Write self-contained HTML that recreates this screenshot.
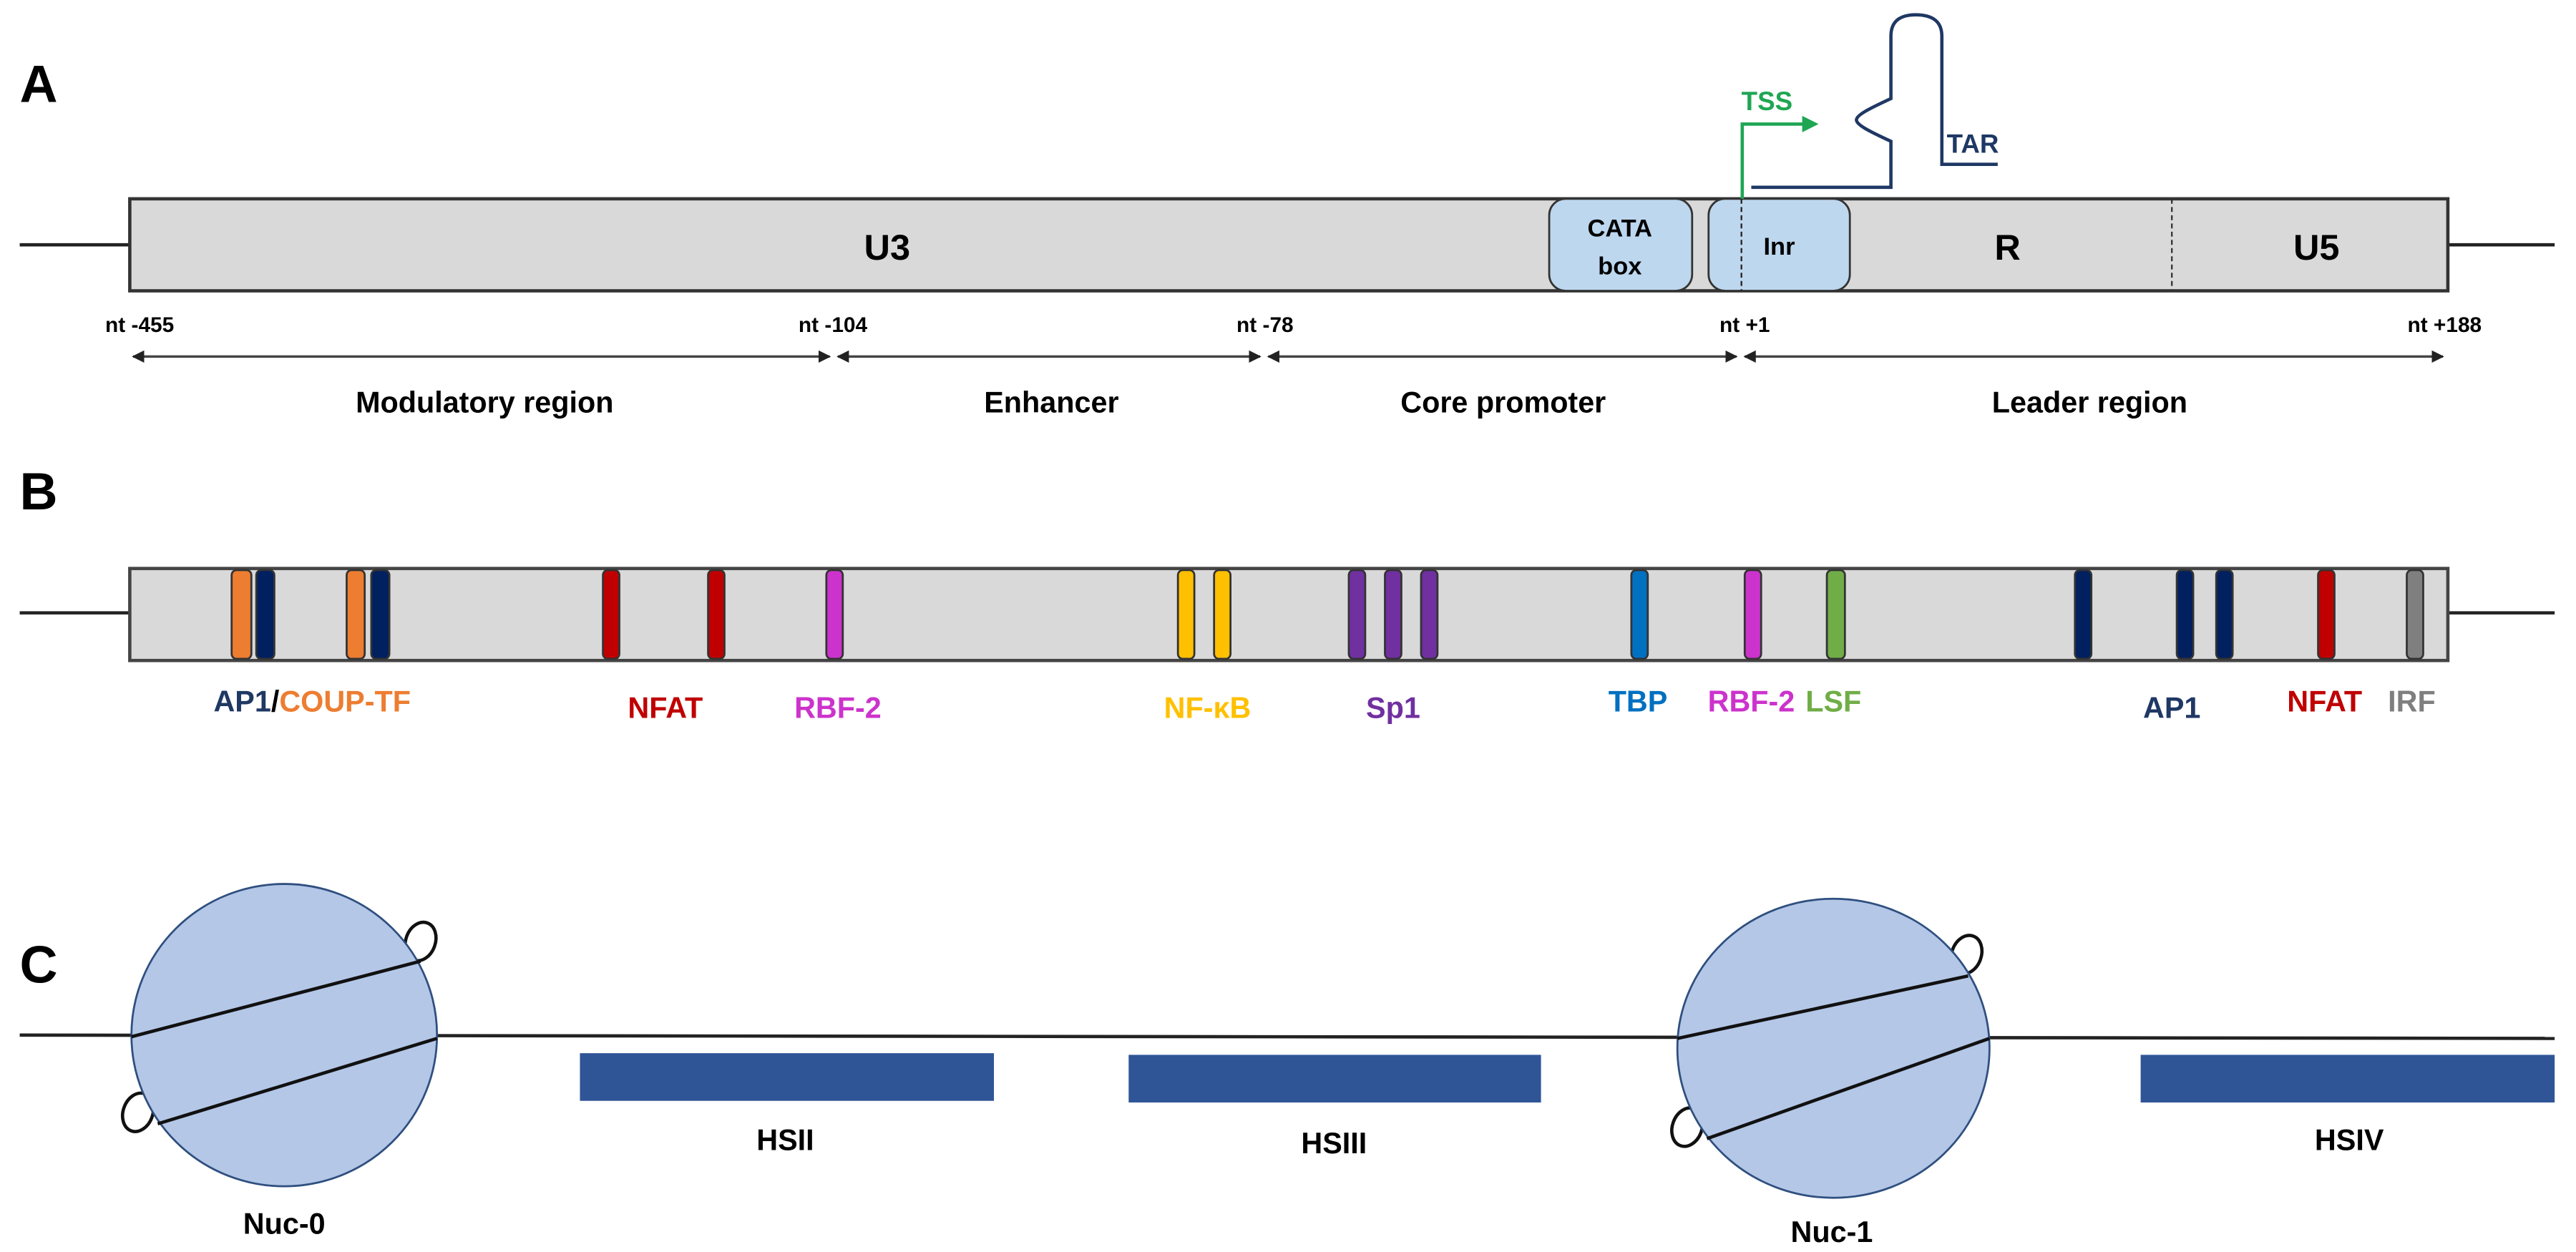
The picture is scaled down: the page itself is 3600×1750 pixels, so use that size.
<!DOCTYPE html>
<html><head><meta charset="utf-8"><style>
html,body{margin:0;padding:0;background:#fff;}
svg{display:block;}
text{font-family:"Liberation Sans",sans-serif;font-weight:bold;}
</style></head><body>
<svg width="3600" height="1750" viewBox="0 0 1568 762" preserveAspectRatio="none" xmlns="http://www.w3.org/2000/svg">
<defs>
<marker id="ah" viewBox="0 0 10 10" refX="9" refY="5" markerWidth="5" markerHeight="5" orient="auto-start-reverse"><path d="M0,0 L10,5 L0,10 z" fill="#222"/></marker>
<marker id="ag" viewBox="0 0 10 10" refX="5" refY="5" markerWidth="5" markerHeight="5" orient="auto"><path d="M0,0 L10,5 L0,10 z" fill="#1fa653"/></marker>
</defs>
<!-- Panel A -->
<text x="12" y="62" font-size="32" fill="#000">A</text>
<line x1="12" y1="149" x2="79" y2="149" stroke="#222" stroke-width="2"/>
<line x1="1490" y1="149" x2="1555" y2="149" stroke="#222" stroke-width="2"/>
<rect x="79" y="121" width="1411" height="56" fill="#d9d9d9" stroke="#333" stroke-width="2"/>
<line x1="1322" y1="121" x2="1322" y2="177" stroke="#333" stroke-width="1" stroke-dasharray="3,2"/>
<rect x="943" y="121" width="87" height="56" rx="10" fill="#bdd7ee" stroke="#333" stroke-width="1.2"/>
<rect x="1040" y="121" width="86" height="56" rx="10" fill="#bdd7ee" stroke="#333" stroke-width="1.2"/>
<line x1="1060" y1="121" x2="1060" y2="177" stroke="#222" stroke-width="1" stroke-dasharray="3,2"/>
<text x="986" y="144" font-size="15" text-anchor="middle" fill="#000">CATA</text>
<text x="986" y="167" font-size="15" text-anchor="middle" fill="#000">box</text>
<text x="1083" y="155" font-size="15" text-anchor="middle" fill="#000">Inr</text>
<text x="540" y="158" font-size="22" text-anchor="middle" fill="#000">U3</text>
<text x="1222" y="158" font-size="22" text-anchor="middle" fill="#000">R</text>
<text x="1410" y="158" font-size="22" text-anchor="middle" fill="#000">U5</text>
<!-- TSS -->
<polyline points="1060.5,121 1060.5,75.5 1102,75.5" fill="none" stroke="#1fa653" stroke-width="2" marker-end="url(#ag)"/>
<text x="1060" y="67" font-size="16" fill="#1fa653">TSS</text>
<!-- TAR -->
<path d="M1066,114 L1151,114 L1151,86 C1138,80 1130,76 1130,73 C1130,70 1138,66 1151,60 L1151,22 Q1151,9 1166,9 Q1182,9 1182,22 L1182,100 L1216,100" fill="none" stroke="#1f3864" stroke-width="2"/>
<text x="1185" y="93" font-size="16" fill="#1f3864">TAR</text>
<!-- nt labels -->
<g font-size="13" text-anchor="middle" fill="#000">
<text x="85" y="202">nt -455</text>
<text x="507" y="202">nt -104</text>
<text x="770" y="202">nt -78</text>
<text x="1062" y="202">nt +1</text>
<text x="1488" y="202">nt +188</text>
</g>
<g stroke="#444" stroke-width="1.5" fill="none">
<line x1="81" y1="217" x2="505" y2="217" marker-start="url(#ah)" marker-end="url(#ah)"/>
<line x1="510" y1="217" x2="767" y2="217" marker-start="url(#ah)" marker-end="url(#ah)"/>
<line x1="772" y1="217" x2="1057" y2="217" marker-start="url(#ah)" marker-end="url(#ah)"/>
<line x1="1062" y1="217" x2="1487" y2="217" marker-start="url(#ah)" marker-end="url(#ah)"/>
</g>
<g font-size="18" text-anchor="middle" fill="#000">
<text x="295" y="251">Modulatory region</text>
<text x="640" y="251">Enhancer</text>
<text x="915" y="251">Core promoter</text>
<text x="1272" y="251">Leader region</text>
</g>
<!-- Panel B -->
<text x="12" y="310" font-size="32" fill="#000">B</text>
<line x1="12" y1="373" x2="79" y2="373" stroke="#222" stroke-width="2"/>
<line x1="1490" y1="373" x2="1555" y2="373" stroke="#222" stroke-width="2"/>
<rect x="79" y="346" width="1411" height="56" fill="#d9d9d9" stroke="#444" stroke-width="2"/>
<g stroke="#333" stroke-width="1.2">
<rect x="141" y="347" width="12" height="54" rx="3" fill="#ed7d31"/>
<rect x="156" y="347" width="11" height="54" rx="3" fill="#002060"/>
<rect x="211" y="347" width="11" height="54" rx="3" fill="#ed7d31"/>
<rect x="226" y="347" width="11" height="54" rx="3" fill="#002060"/>
<rect x="367" y="347" width="10" height="54" rx="3" fill="#c00000"/>
<rect x="431" y="347" width="10" height="54" rx="3" fill="#c00000"/>
<rect x="503" y="347" width="10" height="54" rx="3" fill="#cc33cc"/>
<rect x="717" y="347" width="10" height="54" rx="3" fill="#ffc000"/>
<rect x="739" y="347" width="10" height="54" rx="3" fill="#ffc000"/>
<rect x="821" y="347" width="10" height="54" rx="3" fill="#7030a0"/>
<rect x="843" y="347" width="10" height="54" rx="3" fill="#7030a0"/>
<rect x="865" y="347" width="10" height="54" rx="3" fill="#7030a0"/>
<rect x="993" y="347" width="10" height="54" rx="3" fill="#0070c0"/>
<rect x="1062" y="347" width="10" height="54" rx="3" fill="#cc33cc"/>
<rect x="1112" y="347" width="11" height="54" rx="3" fill="#70ad47"/>
<rect x="1263" y="347" width="10" height="54" rx="3" fill="#002060"/>
<rect x="1325" y="347" width="10" height="54" rx="3" fill="#002060"/>
<rect x="1349" y="347" width="10" height="54" rx="3" fill="#002060"/>
<rect x="1411" y="347" width="10" height="54" rx="3" fill="#c00000"/>
<rect x="1465" y="347" width="10" height="54" rx="3" fill="#7f7f7f"/>
</g>
<g font-size="18" text-anchor="middle">
<text x="190" y="433"><tspan fill="#1f3864">AP1</tspan><tspan fill="#000">/</tspan><tspan fill="#ed7d31">COUP-TF</tspan></text>
<text x="405" y="437" fill="#c00000">NFAT</text>
<text x="510" y="437" fill="#cc33cc">RBF-2</text>
<text x="735" y="437" fill="#ffc000">NF-κB</text>
<text x="848" y="437" fill="#7030a0">Sp1</text>
<text x="997" y="433" fill="#0070c0">TBP</text>
<text x="1066" y="433" fill="#cc33cc">RBF-2</text>
<text x="1116" y="433" fill="#70ad47">LSF</text>
<text x="1322" y="437" fill="#1f3864">AP1</text>
<text x="1415" y="433" fill="#c00000">NFAT</text>
<text x="1468" y="433" fill="#7f7f7f">IRF</text>
</g>
<!-- Panel C -->
<text x="12" y="598" font-size="32" fill="#000">C</text>
<line x1="12" y1="630" x2="1555" y2="632" stroke="#222" stroke-width="2"/>
<rect x="353" y="641" width="252" height="29" fill="#2f5597"/>
<rect x="687" y="642" width="251" height="29" fill="#2f5597"/>
<rect x="1303" y="642" width="252" height="29" fill="#2f5597"/>
<g font-size="18" text-anchor="middle" fill="#000">
<text x="478" y="700">HSII</text>
<text x="812" y="702">HSIII</text>
<text x="1430" y="700">HSIV</text>
<text x="173" y="751">Nuc-0</text>
<text x="1115" y="756">Nuc-1</text>
</g>
<!-- Nuc-0 -->
<ellipse cx="256" cy="573" rx="9" ry="12" fill="none" stroke="#111" stroke-width="2" transform="rotate(20 256 573)"/>
<ellipse cx="84" cy="677" rx="9" ry="12" fill="none" stroke="#111" stroke-width="2" transform="rotate(20 84 677)"/>
<ellipse cx="173" cy="630" rx="93" ry="92" fill="#b4c7e7" stroke="#2f4f7f" stroke-width="1.2"/>
<line x1="80" y1="631" x2="256" y2="585" stroke="#111" stroke-width="2"/>
<line x1="96" y1="684" x2="266" y2="632" stroke="#111" stroke-width="2"/>
<!-- Nuc-1 -->
<ellipse cx="1197" cy="581" rx="9" ry="12" fill="none" stroke="#111" stroke-width="2" transform="rotate(20 1197 581)"/>
<ellipse cx="1027" cy="686" rx="9" ry="12" fill="none" stroke="#111" stroke-width="2" transform="rotate(20 1027 686)"/>
<ellipse cx="1116" cy="638" rx="95" ry="91" fill="#b4c7e7" stroke="#2f4f7f" stroke-width="1.2"/>
<line x1="1021" y1="632" x2="1198" y2="594" stroke="#111" stroke-width="2"/>
<line x1="1039" y1="693" x2="1211" y2="632" stroke="#111" stroke-width="2"/>
</svg>
</body></html>
